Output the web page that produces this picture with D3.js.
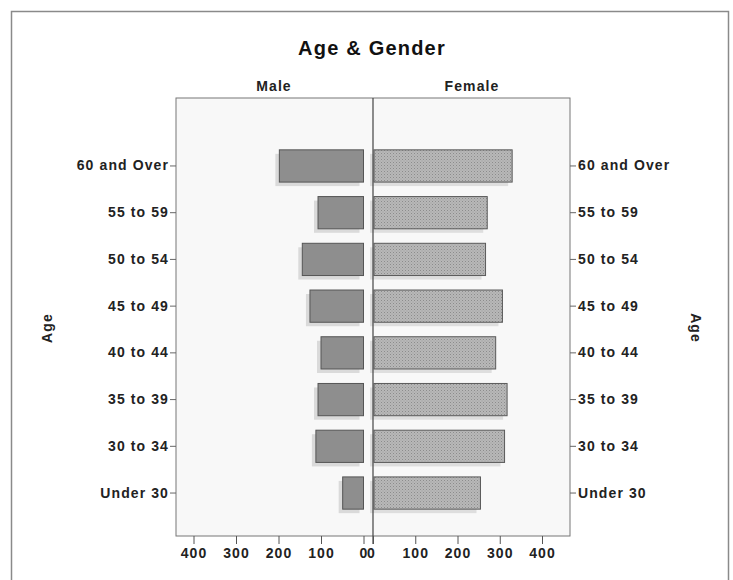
<!DOCTYPE html>
<html><head><meta charset="utf-8">
<script src="https://cdn.jsdelivr.net/npm/d3@7"></script>
<style>body{margin:0;background:#fff}svg{display:block}</style>
</head><body>
<script>
const categories = ["60 and Over","55 to 59","50 to 54","45 to 49","40 to 44","35 to 39","30 to 34","Under 30"];
const maleValues = [198,107,144,126,100,107,112,49];
const femaleValues = [327,268,264,304,288,315,309,252];
const tickValues = [0,100,200,300,400];
const tickLabels = ["0","100","200","300","400"];

const W=733,H=580;
const svg=d3.select("body").append("svg").attr("width",W).attr("height",H);
const font="Liberation Sans, Arial, sans-serif";
const fs=14, ls=1.1;

const defs=svg.append("defs");
const pat=defs.append("pattern").attr("id","dots").attr("width",3).attr("height",3).attr("patternUnits","userSpaceOnUse");
pat.append("rect").attr("width",3).attr("height",3).attr("fill","#b8b8b8");
pat.append("rect").attr("x",0).attr("y",0).attr("width",1).attr("height",1).attr("fill","#8c8c8c");
pat.append("rect").attr("x",1.5).attr("y",1.5).attr("width",1).attr("height",1).attr("fill","#9c9c9c");

svg.append("rect").attr("x",11.5).attr("y",11.5).attr("width",717).attr("height",575)
  .attr("fill","#fff").attr("stroke","#8a8a8a").attr("stroke-width",1.5);

const panel={l:176,r:570,t:98,b:536};
svg.append("rect").attr("x",panel.l).attr("y",panel.t).attr("width",panel.r-panel.l).attr("height",panel.b-panel.t)
  .attr("fill","#f8f8f8").attr("stroke","#777").attr("stroke-width",1);

const leftZero=363.5, rightZero=373;
const xL=d3.scaleLinear().domain([0,400]).range([leftZero,leftZero-170]);
const xR=d3.scaleLinear().domain([0,400]).range([rightZero,rightZero+169]);
const y=d3.scaleBand().domain(categories).range([142.6,516.4]).paddingInner(0.31).paddingOuter(0.155);

const sh=4;
svg.append("g").selectAll("rect").data(categories).join("rect")
  .attr("x",(d,i)=>xL(maleValues[i])-sh).attr("y",d=>y(d)+sh)
  .attr("width",(d,i)=>xL(0)-xL(maleValues[i])).attr("height",y.bandwidth())
  .attr("fill","#dadada");
svg.append("g").selectAll("rect").data(categories).join("rect")
  .attr("x",(d,i)=>xL(maleValues[i])).attr("y",d=>y(d))
  .attr("width",(d,i)=>xL(0)-xL(maleValues[i])).attr("height",y.bandwidth())
  .attr("fill","#8e8e8e").attr("stroke","#555").attr("stroke-width",1);
svg.append("g").selectAll("rect").data(categories).join("rect")
  .attr("x",xR(0)-sh+1).attr("y",d=>y(d)+sh)
  .attr("width",(d,i)=>xR(femaleValues[i])-xR(0)).attr("height",y.bandwidth())
  .attr("fill","#dedede");
svg.append("g").selectAll("rect").data(categories).join("rect")
  .attr("x",xR(0)+1).attr("y",d=>y(d))
  .attr("width",(d,i)=>xR(femaleValues[i])-xR(0)).attr("height",y.bandwidth())
  .attr("fill","url(#dots)").attr("stroke","#5a5a5a").attr("stroke-width",1);

svg.append("line").attr("x1",rightZero).attr("x2",rightZero).attr("y1",panel.t).attr("y2",panel.b+8)
  .attr("stroke","#444").attr("stroke-width",1.2);

const styleText=sel=>sel.attr("font-family",font).attr("font-size",fs).attr("font-weight","bold")
  .attr("letter-spacing",ls).attr("fill","#222");

const yL=svg.append("g").attr("transform",`translate(${panel.l},0)`).call(d3.axisLeft(y).tickSize(6).tickPadding(1));
const yR=svg.append("g").attr("transform",`translate(${panel.r},0)`).call(d3.axisRight(y).tickSize(6).tickPadding(2));
[yL,yR].forEach(g=>{g.select(".domain").remove();
  g.selectAll("line").attr("stroke","#666");
  styleText(g.selectAll("text"));});

const fmt=(d)=>tickLabels[tickValues.indexOf(d)];
const xAL=svg.append("g").attr("transform",`translate(0,${panel.b})`).call(d3.axisBottom(xL).tickValues(tickValues).tickFormat(fmt).tickSize(8).tickPadding(4));
const xAR=svg.append("g").attr("transform",`translate(0,${panel.b})`).call(d3.axisBottom(xR).tickValues(tickValues).tickFormat(fmt).tickSize(8).tickPadding(4));
[xAL,xAR].forEach(g=>{g.select(".domain").remove();
  g.selectAll("line").attr("stroke","#555");
  styleText(g.selectAll("text"));});
xAR.selectAll(".tick text").filter(d=>d===0).attr("dx",-2);

const addText=(x,yy,t,size,anchor,tr)=>{
  const s=svg.append("text").attr("text-anchor",anchor||"middle");
  styleText(s); s.attr("font-size",size||fs).text(t);
  if(tr) s.attr("transform",tr); else s.attr("x",x).attr("y",yy);
  return s;};
addText(372,55,"Age & Gender",20).attr("fill","#111").attr("letter-spacing",1.2);
addText(274,91,"Male");
addText(472,91,"Female");
addText(0,0,"Age",fs,"middle","translate(52,328) rotate(-90)");
addText(0,0,"Age",fs,"middle","translate(691,328) rotate(90)");
</script>
</body></html>
